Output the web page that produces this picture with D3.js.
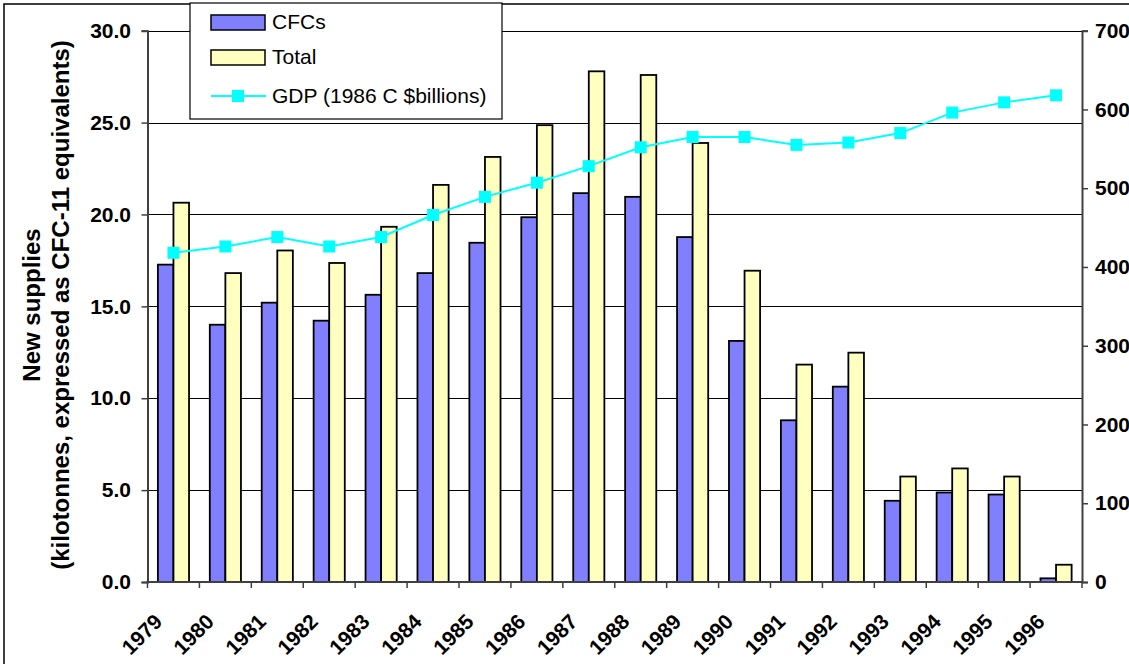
<!DOCTYPE html>
<html>
<head>
<meta charset="utf-8">
<script src="https://cdn.jsdelivr.net/npm/d3@7"></script>
<style>
  html, body { margin: 0; padding: 0; background: #fff; overflow: hidden; }
  svg { display: block; font-family: "Liberation Sans", Arial, sans-serif; }
</style>
</head>
<body>
<svg id="chart" width="1129" height="664"></svg>
<script>
const years = ["1979","1980","1981","1982","1983","1984","1985","1986","1987","1988","1989","1990","1991","1992","1993","1994","1995","1996"];
const cfcs  = [17.27, 14.0, 15.2, 14.22, 15.63, 16.81, 18.46, 19.85, 21.16, 20.96, 18.77, 13.12, 8.8, 10.63, 4.42, 4.87, 4.76, 0.2];
const total = [20.64, 16.81, 18.04, 17.36, 19.33, 21.61, 23.13, 24.86, 27.79, 27.59, 23.89, 16.94, 11.83, 12.48, 5.74, 6.18, 5.74, 0.94];
const gdp   = [418, 426, 438, 426, 438, 466, 489, 507, 528, 552, 565, 565, 555, 558, 570, 596, 609, 618];
const leftTicks  = [0, 5, 10, 15, 20, 25, 30];
const rightTicks = [0, 100, 200, 300, 400, 500, 600, 700];
const seriesNames = ["CFCs", "Total", "GDP (1986 C $billions)"];

const svg = d3.select("#chart");
const L = 147.5, R = 1082, T = 30.7, B = 582;
const FONT = "Liberation Sans, Arial, sans-serif";

const x = d3.scaleBand().domain(years).range([L, R]).paddingInner(0).paddingOuter(0);
const yL = d3.scaleLinear().domain([0, 30]).range([B, T]);
const yR = d3.scaleLinear().domain([0, 700]).range([B, T]);
const bw = x.bandwidth();
const barW = bw * 0.3;

// outer frame
svg.append("rect").attr("x", 4).attr("y", 4).attr("width", 1200).attr("height", 700)
  .attr("fill", "#fff").attr("stroke", "#000").attr("stroke-width", 1.5);

// gridlines
svg.append("g").selectAll("line").data(leftTicks.filter(d => d > 0)).join("line")
  .attr("x1", L).attr("x2", R).attr("y1", d => Math.round(yL(d)) + 0.5).attr("y2", d => Math.round(yL(d)) + 0.5)
  .attr("stroke", "#000").attr("stroke-width", 1);

// bars
const g = svg.append("g");
years.forEach((yr, i) => {
  const cx = x(yr) + bw / 2;
  g.append("rect").attr("x", cx - barW).attr("y", yL(cfcs[i]))
    .attr("width", barW).attr("height", B - yL(cfcs[i]))
    .attr("fill", "#8080FF").attr("stroke", "#000").attr("stroke-width", 1.8);
  g.append("rect").attr("x", cx).attr("y", yL(total[i]))
    .attr("width", barW).attr("height", B - yL(total[i]))
    .attr("fill", "#FFFFC0").attr("stroke", "#000").attr("stroke-width", 1.8);
});

// axes
const axisCol = "#404040";
const leftAxis = d3.axisLeft(yL).tickValues(leftTicks).tickSize(6).tickFormat(d3.format(".1f"));
const ga = svg.append("g").attr("transform", `translate(${L},0)`).call(leftAxis);
ga.select(".domain").attr("stroke", axisCol).attr("stroke-width", 2);
ga.selectAll(".tick line").attr("stroke", axisCol).attr("stroke-width", 1.5);
ga.selectAll("text").attr("x", -16.5).attr("font-size", 21).attr("font-weight", "bold")
  .attr("font-family", FONT).attr("fill", "#000");

const rightAxis = d3.axisRight(yR).tickValues(rightTicks).tickSize(6).tickFormat(d3.format("d"));
const gr = svg.append("g").attr("transform", `translate(${R},0)`).call(rightAxis);
gr.select(".domain").attr("stroke", axisCol).attr("stroke-width", 2);
gr.selectAll(".tick line").attr("stroke", axisCol).attr("stroke-width", 1.5);
gr.selectAll("text").attr("x", 13).attr("font-size", 21).attr("font-weight", "bold")
  .attr("font-family", FONT).attr("fill", "#000");

// bottom axis
const bottomAxis = d3.axisBottom(x).tickSize(0).tickFormat(d => d);
const gb = svg.append("g").attr("transform", `translate(0,${B})`).call(bottomAxis);
gb.select(".domain").remove();
svg.append("line").attr("x1", L - 1).attr("x2", R + 1).attr("y1", B).attr("y2", B)
  .attr("stroke", axisCol).attr("stroke-width", 2);
svg.append("g").selectAll("line").data(years.concat(["end"])).join("line")
  .attr("x1", (d, i) => L + i * bw).attr("x2", (d, i) => L + i * bw)
  .attr("y1", B).attr("y2", B + 6).attr("stroke", axisCol).attr("stroke-width", 1.5);
gb.selectAll(".tick text")
  .attr("font-size", 21).attr("font-weight", "bold").attr("fill", "#000")
  .attr("font-family", FONT)
  .attr("text-anchor", "end").attr("dy", null).attr("y", 0)
  .attr("transform", "translate(-10, 41) rotate(-45)");

// GDP line
const line = d3.line().x((d, i) => x(years[i]) + bw / 2).y(d => yR(d));
svg.append("path").datum(gdp).attr("d", line).attr("fill", "none")
  .attr("stroke", "#00FFFF").attr("stroke-width", 2);
svg.append("g").selectAll("rect").data(gdp).join("rect")
  .attr("x", (d, i) => x(years[i]) + bw / 2 - 6).attr("y", d => yR(d) - 6)
  .attr("width", 12).attr("height", 12).attr("fill", "#00FFFF");

// Y title
const yt = svg.append("text").attr("transform", "translate(0,305) rotate(-90)")
  .attr("text-anchor", "middle").attr("font-size", 24).attr("font-weight", "bold")
  .attr("font-family", FONT).attr("fill", "#000");
yt.append("tspan").attr("x", 0).attr("y", 40).text("New supplies");
yt.append("tspan").attr("x", 0).attr("y", 69).text("(kilotonnes, expressed as CFC-11 equivalents)");

// legend
const lg = svg.append("g");
lg.append("rect").attr("x", 190).attr("y", 3).attr("width", 312).attr("height", 116)
  .attr("fill", "#fff").attr("stroke", "#000").attr("stroke-width", 1.2);
lg.append("rect").attr("x", 211).attr("y", 15).attr("width", 54).attr("height", 15)
  .attr("fill", "#8080FF").attr("stroke", "#000").attr("stroke-width", 1.5);
lg.append("rect").attr("x", 211).attr("y", 50).attr("width", 54).attr("height", 15)
  .attr("fill", "#FFFFC0").attr("stroke", "#000").attr("stroke-width", 1.5);
lg.append("line").attr("x1", 211).attr("x2", 266).attr("y1", 96).attr("y2", 96)
  .attr("stroke", "#00FFFF").attr("stroke-width", 2);
lg.append("rect").attr("x", 232).attr("y", 90).attr("width", 12).attr("height", 12).attr("fill", "#00FFFF");
[22, 57, 96].forEach((yy, i) => {
  lg.append("text").attr("x", 272).attr("y", yy).attr("dy", "0.35em")
    .attr("font-size", 21).attr("font-family", FONT).attr("fill", "#000").text(seriesNames[i]);
});
</script>
</body>
</html>
